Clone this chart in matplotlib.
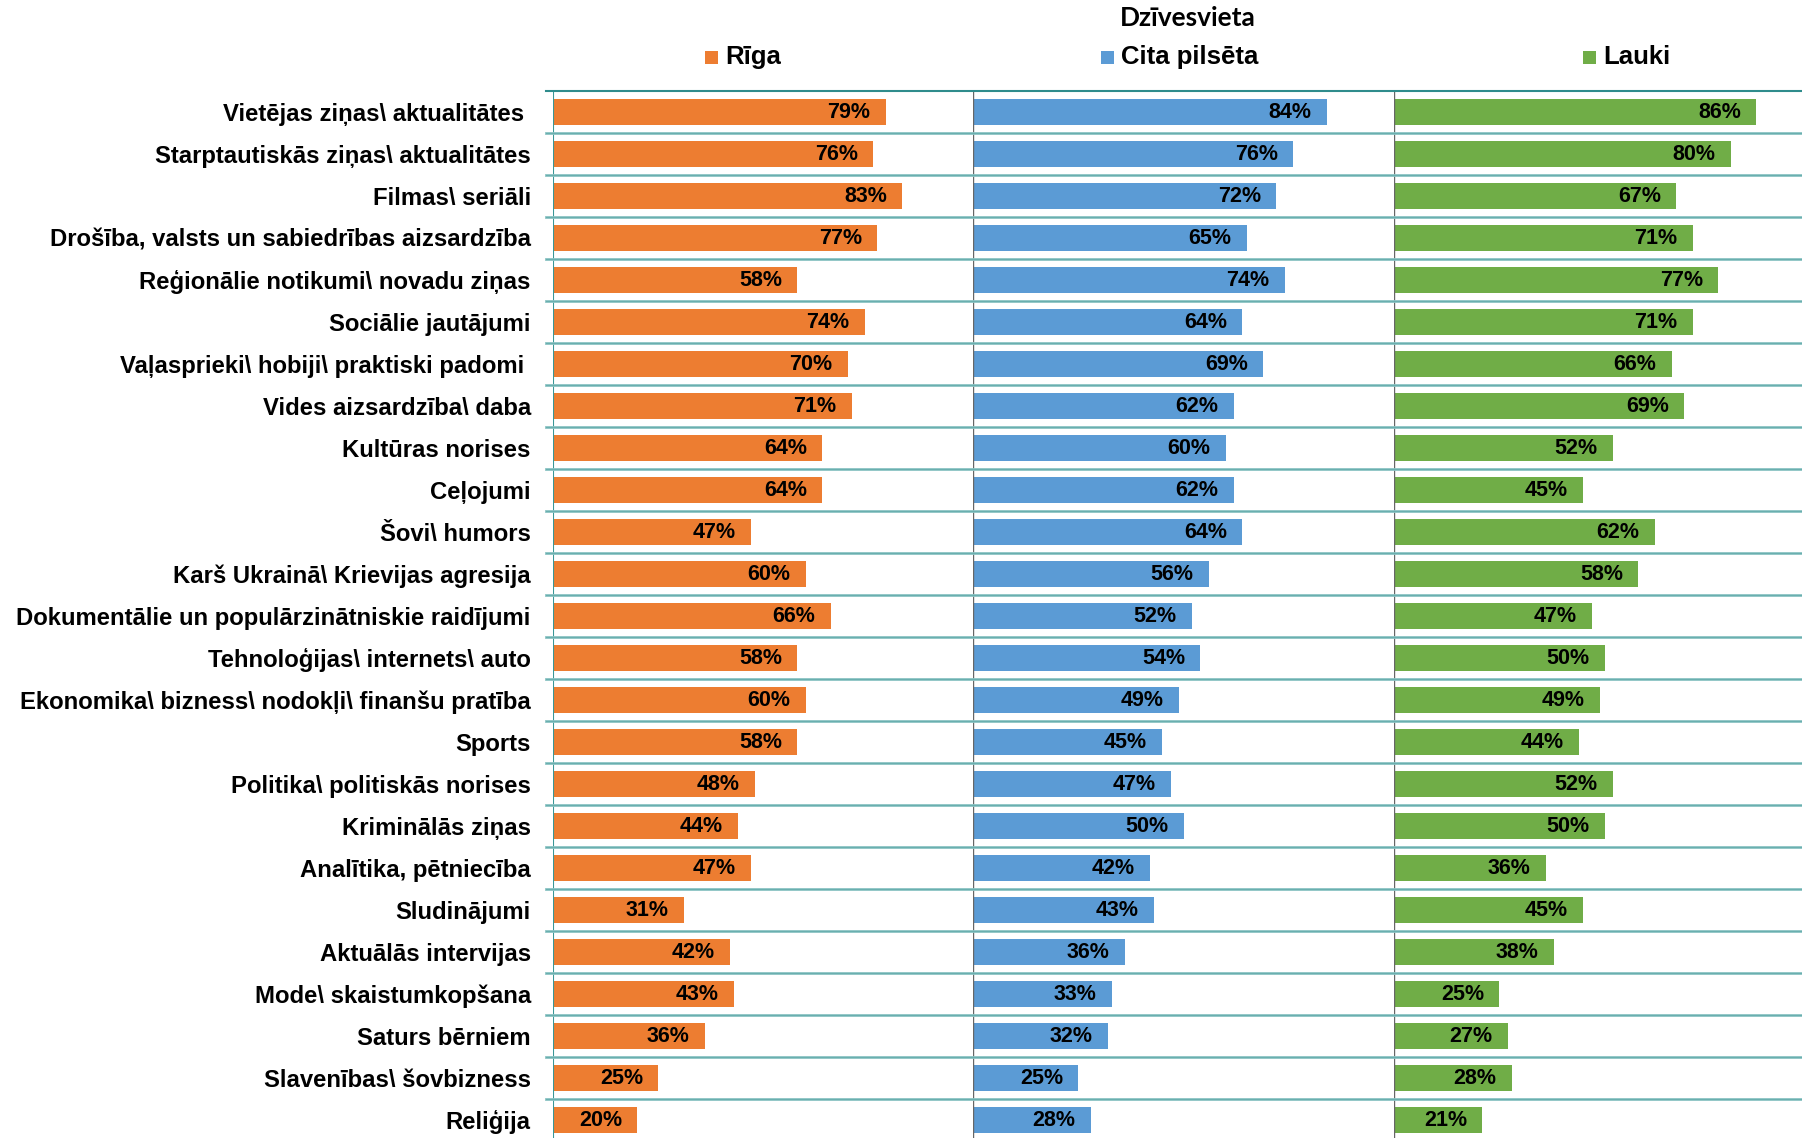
import matplotlib
matplotlib.use("Agg")
import matplotlib.pyplot as plt
from matplotlib.transforms import blended_transform_factory
from matplotlib.lines import Line2D
from matplotlib.patches import Rectangle

categories = [
    "Vietējas ziņas\\ aktualitātes ",
    "Starptautiskās ziņas\\ aktualitātes",
    "Filmas\\ seriāli",
    "Drošība, valsts un sabiedrības aizsardzība",
    "Reģionālie notikumi\\ novadu ziņas",
    "Sociālie jautājumi",
    "Vaļasprieki\\ hobiji\\ praktiski padomi ",
    "Vides aizsardzība\\ daba",
    "Kultūras norises",
    "Ceļojumi",
    "Šovi\\ humors",
    "Karš Ukrainā\\ Krievijas agresija",
    "Dokumentālie un populārzinātniskie raidījumi",
    "Tehnoloģijas\\ internets\\ auto",
    "Ekonomika\\ bizness\\ nodokļi\\ finanšu pratība",
    "Sports",
    "Politika\\ politiskās norises",
    "Kriminālās ziņas",
    "Analītika, pētniecība",
    "Sludinājumi",
    "Aktuālās intervijas",
    "Mode\\ skaistumkopšana",
    "Saturs bērniem",
    "Slavenības\\ šovbizness",
    "Reliģija",
]

riga = [79, 76, 83, 77, 58, 74, 70, 71, 64, 64, 47, 60, 66, 58, 60, 58, 48, 44, 47, 31, 42, 43, 36, 25, 20]
cita_pilseta = [84, 76, 72, 65, 74, 64, 69, 62, 60, 62, 64, 56, 52, 54, 49, 45, 47, 50, 42, 43, 36, 33, 32, 25, 28]
lauki = [86, 80, 67, 71, 77, 71, 66, 69, 52, 45, 62, 58, 47, 50, 49, 44, 52, 50, 36, 45, 38, 25, 27, 28, 21]

series_names = ["Rīga", "Cita pilsēta", "Lauki"]
series_values = [riga, cita_pilseta, lauki]
series_colors = ["#ED7D31", "#5B9BD5", "#70AD47"]
title_text = "Dzīvesvieta"

W, H = 1802, 1138
fig = plt.figure(figsize=(W / 100, H / 100), dpi=100)
fig.patch.set_facecolor("white")

panel_left_px = [553, 973, 1394]
panel_w_px = 421
top_px = 91
row_px = 42
n = len(categories)
bottom_px = top_px + n * row_px

axes = []
for i, lp in enumerate(panel_left_px):
    ax = fig.add_axes([lp / W, 1 - bottom_px / H, panel_w_px / W, n * row_px / H])
    ax.set_xlim(0, 100)
    ax.set_ylim(n - 0.5, -0.5)
    for s in ax.spines.values():
        s.set_visible(False)
    ax.set_xticks([])
    ax.patch.set_alpha(0)
    axes.append(ax)

ys = list(range(n))
for ax, vals, color in zip(axes, series_values, series_colors):
    ax.barh(ys, vals, height=0.62, color=color, edgecolor="none", zorder=2)
    for y, v in zip(ys, vals):
        ax.annotate(f"{v}%", xy=(v, y), xytext=(-11, 0), textcoords="offset points",
                    ha="right", va="center", fontsize=15.5, fontweight="bold",
                    family="Liberation Sans", color="black", zorder=3)

# category labels
ax0 = axes[0]
ax0.set_yticks(ys)
ax0.set_yticklabels(categories, fontsize=17.2, fontweight="bold", family="Liberation Sans")
ax0.tick_params(axis="y", length=0, pad=16)
for ax in axes[1:]:
    ax.set_yticks([])

# row separators spanning all panels
trans = blended_transform_factory(fig.transFigure, ax0.transData)
x0 = 546 / W
for k in range(n):
    yb = k + 0.5
    fig.add_artist(Line2D([x0, 1.0], [yb, yb], transform=trans, color="#8cc4c4", lw=2.0, zorder=1))
    fig.add_artist(Line2D([x0, 1.0], [yb, yb], transform=trans, color="#6aafaf", lw=0.8, zorder=1))
fig.add_artist(Line2D([x0, 1.0], [-0.5, -0.5], transform=trans, color="#2f8c8c", lw=1.5, zorder=1))

# panel edges
ax0.axvline(0, color="#3a9696", lw=1.5, zorder=4)
for ax in axes[1:]:
    ax.axvline(0, color="#666666", lw=1.0, zorder=4)

# title and legend
fig.text(1188 / W, 1 - 26 / H, title_text, ha="center", va="baseline",
         fontsize=19, fontweight="bold", family="Lato")
legend_marker_px = [711, 1107, 1589]
for name, color, mx in zip(series_names, series_colors, legend_marker_px):
    sz = 13
    fig.add_artist(Rectangle(((mx - sz / 2) / W, 1 - (57 + sz / 2) / H), sz / W, sz / H,
                             transform=fig.transFigure, color=color, lw=0))
    fig.text((mx + 14) / W, 1 - 64 / H, name, ha="left", va="baseline",
             fontsize=18.5, fontweight="bold", family="Liberation Sans")

fig.savefig("out.png", dpi=100)
